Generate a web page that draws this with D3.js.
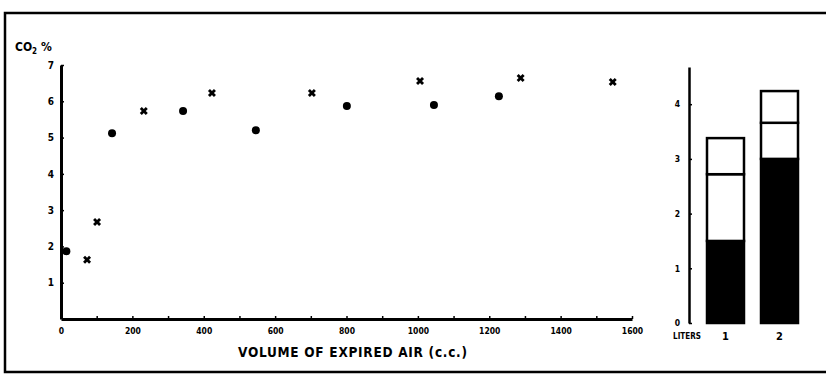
<!DOCTYPE html>
<html>
<head>
<meta charset="utf-8">
<script src="https://cdn.jsdelivr.net/npm/d3@7"></script>
<style>
  html, body { margin: 0; padding: 0; background: #fff; }
  svg { display: block; }
  text { font-family: "DejaVu Sans Condensed", "DejaVu Sans", sans-serif; font-weight: bold; fill: #000; }
</style>
</head>
<body>
<svg id="chart" width="826" height="375"></svg>
<script>
// ---- data ----
const circleVolume = [15, 143, 342, 546, 801, 1045, 1227];
const circleCO2    = [1.87, 5.12, 5.73, 5.2, 5.87, 5.9, 6.14];
const crossVolume  = [73, 101, 232, 423, 703, 1006, 1288, 1546];
const crossCO2     = [1.63, 2.67, 5.73, 6.23, 6.23, 6.56, 6.64, 6.53];
const xTickValues  = [0,100,200,300,400,500,600,700,800,900,1000,1100,1200,1300,1400,1500,1600];
const yTickValues  = [1,2,3,4,5,6,7];

const barCategories = ["1", "2"];
const barBlack  = [1.5, 3.0];
const barMiddle = [1.22, 0.66];
const barTop    = [0.66, 0.58];
const literTicks = [0,1,2,3,4];

const svg = d3.select("#chart");
const fmtInt = d3.format("d");

// frame (open on the right)
svg.append("path")
  .attr("d", "M826,13 H5 V372 H826")
  .attr("fill", "none").attr("stroke", "#000").attr("stroke-width", 2.5);

// ---- scatter ----
const x = d3.scaleLinear().domain([0, 1600]).range([61, 632]);
const y = d3.scaleLinear().domain([0, 7]).range([319, 65]);

const xAxis = svg.append("g").attr("transform", `translate(0,${y(0)})`)
  .call(d3.axisBottom(x).tickValues(xTickValues).tickSizeInner(-3).tickSizeOuter(0).tickPadding(9)
    .tickFormat(d => d % 200 === 0 ? fmtInt(d) : ""));
xAxis.select(".domain").attr("stroke-width", 3);
xAxis.selectAll(".tick line").attr("stroke-width", 1.5);
xAxis.selectAll(".tick text").attr("font-size", 8.5).attr("font-family", "DejaVu Sans Condensed").attr("font-weight", "bold");

const yAxis = svg.append("g").attr("transform", `translate(${x(0)},0)`)
  .call(d3.axisLeft(y).tickValues(yTickValues).tickFormat(fmtInt).tickSizeInner(-3).tickSizeOuter(0).tickPadding(7));
yAxis.select(".domain").attr("stroke-width", 3);
yAxis.selectAll(".tick line").attr("stroke-width", 1.5);
yAxis.selectAll(".tick text").attr("font-size", 10).attr("font-family", "DejaVu Sans Condensed").attr("font-weight", "bold");

// CO2 % label
const co2 = svg.append("text").attr("x", 15).attr("y", 51).attr("font-size", 12);
co2.append("tspan").text("CO");
co2.append("tspan").attr("font-size", 8).attr("dy", 3).text("2");
co2.append("tspan").attr("dy", -3).text(" %");

svg.append("text").attr("x", 238).attr("y", 357)
  .attr("font-size", 13.5).attr("textLength", 229).attr("lengthAdjust", "spacing")
  .text("VOLUME OF EXPIRED AIR  (c.c.)");

svg.append("g").selectAll("circle")
  .data(circleVolume.map((v, i) => [v, circleCO2[i]]))
  .join("circle")
  .attr("cx", d => x(d[0])).attr("cy", d => y(d[1])).attr("r", 4)
  .attr("fill", "#000");

const crossSym = d3.symbol().type(d3.symbolCross).size(40);
svg.append("g").selectAll("path")
  .data(crossVolume.map((v, i) => [v, crossCO2[i]]))
  .join("path")
  .attr("d", crossSym)
  .attr("transform", d => `translate(${x(d[0])},${y(d[1])}) rotate(45)`)
  .attr("fill", "#000");

// ---- bar chart ----
const yb = d3.scaleLinear().domain([0, 4.68]).range([323, 67]);
const xb = d3.scaleBand().domain(barCategories).range([698.5, 806.5]).paddingInner(0.315).paddingOuter(0.1574);

const ybAxis = svg.append("g").attr("transform", "translate(689,0)")
  .call(d3.axisLeft(yb).tickValues(literTicks).tickFormat(fmtInt).tickSizeInner(-3).tickSizeOuter(0).tickPadding(9));
ybAxis.select(".domain").attr("stroke-width", 2.5);
ybAxis.selectAll(".tick line").attr("stroke-width", 1.5);
ybAxis.selectAll(".tick text").attr("font-size", 8.5).attr("font-family", "DejaVu Sans Condensed").attr("font-weight", "bold");

const stacks = barCategories.map((c, i) => {
  const b = barBlack[i], m = barMiddle[i], t = barTop[i];
  return { c, segs: [[0, b, "#000"], [b, b + m, "#fff"], [b + m, b + m + t, "#fff"]] };
});
const barG = svg.append("g");
stacks.forEach(s => {
  s.segs.forEach(seg => {
    barG.append("rect")
      .attr("x", xb(s.c)).attr("width", xb.bandwidth())
      .attr("y", yb(seg[1])).attr("height", yb(seg[0]) - yb(seg[1]))
      .attr("fill", seg[2]).attr("stroke", "#000").attr("stroke-width", 2.5);
  });
});

svg.append("g").selectAll("text").data(barCategories).join("text")
  .attr("x", d => xb(d) + xb.bandwidth() / 2).attr("y", 340)
  .attr("text-anchor", "middle").attr("font-size", 11).text(d => d);
svg.append("text").attr("x", 687).attr("y", 339).attr("text-anchor", "middle")
  .attr("font-size", 8).text("LITERS");
</script>
</body>
</html>
